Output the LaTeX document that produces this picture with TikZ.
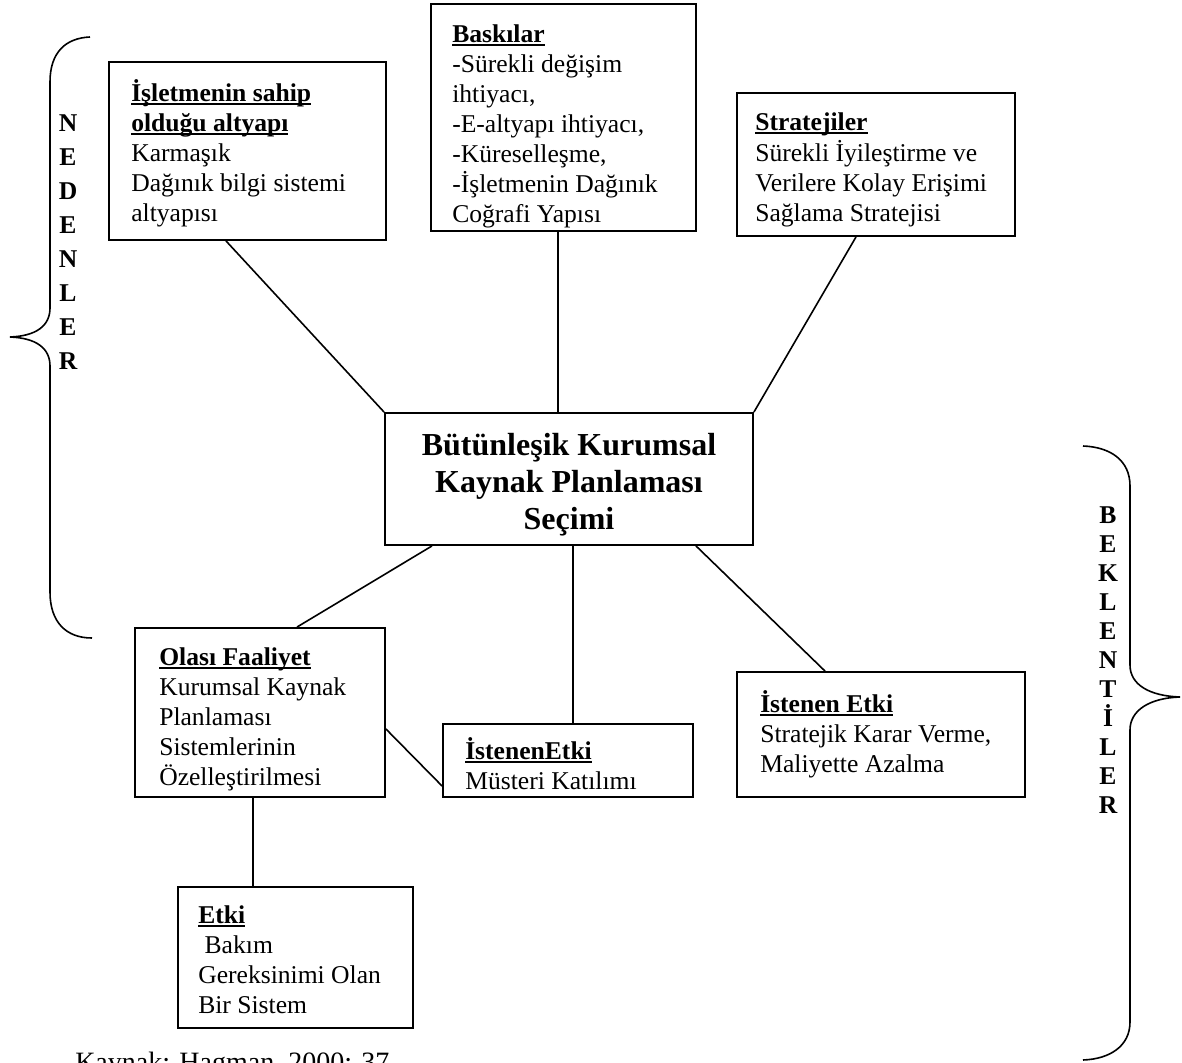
\documentclass[tikz,border=0pt]{standalone}
\usepackage{fontspec}
\setmainfont{Liberation Serif}
\usetikzlibrary{fit}
% bold, underlined heading of a box
\newcommand\boxhead[1]{\setbox0\hbox{\bfseries #1}\rlap{\rule[-3pt]{\wd0}{1.4pt}}\box0}
\begin{document}
\begin{tikzpicture}[x=0.75pt,y=-0.75pt,
  frame/.style={draw, line width=1.4pt, inner sep=0pt},
  body/.style={anchor=north west, inner sep=0pt, align=left,
    font=\fontsize{19.2pt}{22.5pt}\selectfont},
  title/.style={anchor=north, inner sep=0pt, align=center,
    font=\bfseries\fontsize{24pt}{27.75pt}\selectfont},
  link/.style={line width=1.2pt},
  brace/.style={line width=1.2pt}]
\useasboundingbox (0,0) rectangle (1182,1063);

% frames
\node[frame, fit={(109,62) (386,240)}] (altyapi) {};
\node[frame, fit={(431,4) (696,231)}] (baski) {};
\node[frame, fit={(737,93) (1015,236)}] (strateji) {};
\node[frame, fit={(385,413) (753,545)}] (secim) {};
\node[frame, fit={(135,628) (385,797)}] (faaliyet) {};
\node[frame, fit={(443,724) (693,797)}] (katilim) {};
\node[frame, fit={(737,672) (1025,797)}] (etkiA) {};
\node[frame, fit={(178,887) (413,1028)}] (etkiB) {};

% box texts
\node[body] (altyapiT) at (131,79) {\strut\boxhead{İşletmenin sahip}\\
  \boxhead{olduğu altyapı}\\ Karmaşık\\ Dağınık bilgi sistemi\\ altyapısı};
\node[body] (baskiT) at (452,21) {\strut\boxhead{Baskılar}\\
  -Sürekli değişim\\ ihtiyacı,\\ -E-altyapı ihtiyacı,\\ -Küreselleşme,\\
  -İşletmenin Dağınık\\ Coğrafi Yapısı};
\node[body] (stratejiT) at (755,109) {\strut\boxhead{Stratejiler}\\
  Sürekli İyileştirme ve\\ Verilere Kolay Erişimi\\ Sağlama Stratejisi};
\node[title] (secimT) at (569,429) {\strut Bütünleşik Kurumsal\\ Kaynak Planlaması\\ Seçimi};
\node[body] (faaliyetT) at (159,644) {\strut\boxhead{Olası Faaliyet}\\
  Kurumsal Kaynak\\ Planlaması\\ Sistemlerinin\\ Özelleştirilmesi};
\node[body] (katilimT) at (465,737) {\strut\boxhead{İstenenEtki}\\ Müsteri Katılımı};
\node[body] (etkiAT) at (760,690) {\strut\boxhead{İstenen Etki}\\
  Stratejik Karar Verme,\\ Maliyette Azalma};
\node[body] (etkiBT) at (198,902) {\strut\boxhead{Etki}\\ \ Bakım\\
  Gereksinimi Olan\\ Bir Sistem};

% connectors
\draw[link] (altyapi.south -| 226,0) -- (secim.north west);
\draw[link] (baski.south -| 558,0) -- (secim.north -| 558,0);
\draw[link] (strateji.south -| 856,0) -- (secim.north east);
\draw[link] (secim.south -| 432,0) -- (faaliyet.north -| 297,0);
\draw[link] (secim.south -| 573,0) -- (katilim.north -| 573,0);
\draw[link] (secim.south -| 696,0) -- (etkiA.north -| 825,0);
\draw[link] (faaliyet.east |- 0,729) -- (katilim.west |- 0,786);
\draw[link] (faaliyet.south -| 253,0) -- (etkiB.north -| 253,0);

% left brace and its vertical label
\draw[brace] (90,37) .. controls (66,38) and (50,52) .. (50,82) -- (50,308)
  .. controls (50,326) and (36,336) .. (10,337)
  .. controls (36,338) and (50,348) .. (50,366) -- (50,592)
  .. controls (50,622) and (66,638) .. (92,638);
\node[anchor=north, inner sep=0pt, align=center,
  font=\bfseries\fontsize{19.2pt}{25.5pt}\selectfont] (nedenler) at (68,107)
  {\strut N\\E\\D\\E\\N\\L\\E\\R};

% right brace and its vertical label
\draw[brace] (1083,446) .. controls (1110,447) and (1130,460) .. (1130,486) -- (1130,665)
  .. controls (1130,685) and (1150,696) .. (1180,697)
  .. controls (1150,698) and (1130,710) .. (1130,730) -- (1130,1022)
  .. controls (1130,1046) and (1110,1059) .. (1083,1060);
\node[anchor=north, inner sep=0pt, align=center,
  font=\bfseries\fontsize{19.2pt}{21.75pt}\selectfont] (beklentiler) at (1108,503.4)
  {\strut B\\E\\K\\L\\E\\N\\T\\İ\\L\\E\\R};

% source line
\node[anchor=base west, inner sep=0pt, font=\fontsize{21pt}{25pt}\selectfont] (kaynak)
  at (75,1071) {Kaynak: Hagman, 2000: 37};
\end{tikzpicture}
\end{document}
